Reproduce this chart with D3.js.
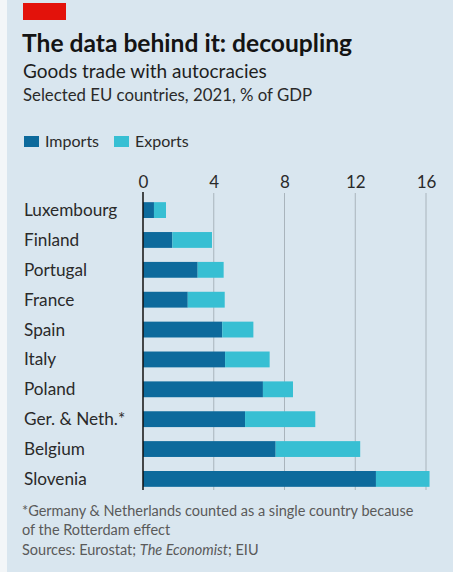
<!DOCTYPE html>
<html>
<head>
<meta charset="utf-8">
<script src="https://cdn.jsdelivr.net/npm/d3@7"></script>
<style>
  html, body { margin: 0; padding: 0; background: #f3f6f8; }
  svg { display: block; }
</style>
</head>
<body>
<svg id="chart" width="453" height="572"></svg>
<script>
// Goods trade with autocracies, selected EU countries, 2021, % of GDP
const countries = ["Luxembourg", "Finland", "Portugal", "France", "Spain", "Italy",
                   "Poland", "Ger. & Neth.*", "Belgium", "Slovenia"];
const imports = [0.62, 1.66, 3.09, 2.53, 4.48, 4.64, 6.78, 5.77, 7.50, 13.17];
const exports = [0.68, 2.24, 1.47, 2.09, 1.76, 2.52, 1.70, 3.97, 4.78, 3.03];
const xTicks = [0, 4, 8, 12, 16];
const seriesNames = ["Imports", "Exports"];

const W = 453, H = 572;
const colors = { Imports: "#0d6a9c", Exports: "#37bfd3" };
const bg = "#d9e6ef";
const font = "Lato, 'Open Sans', sans-serif";

const svg = d3.select("#chart");

// panel background with a pale strip on the left edge
svg.append("rect").attr("x", 7).attr("y", 0).attr("width", W - 7).attr("height", H).attr("fill", bg);

// red tag
svg.append("rect").attr("x", 23).attr("y", 3).attr("width", 43).attr("height", 17).attr("fill", "#e3120b");

// headings
svg.append("text").attr("x", 22).attr("y", 52)
  .attr("font-family", font).attr("font-weight", 700).attr("font-size", 24.6)
  .attr("fill", "#141414").text("The data behind it: decoupling");
svg.append("text").attr("x", 23).attr("y", 78)
  .attr("font-family", font).attr("font-size", 19)
  .attr("fill", "#1e1e1e").text("Goods trade with autocracies");
svg.append("text").attr("x", 23).attr("y", 101)
  .attr("font-family", font).attr("font-size", 16.8)
  .attr("fill", "#2a2a2a").text("Selected EU countries, 2021, % of GDP");

// legend
const legend = svg.append("g").attr("transform", "translate(24,136)");
const legX = [0, 90];
seriesNames.forEach((name, i) => {
  const g = legend.append("g").attr("transform", `translate(${legX[i]},0)`);
  g.append("rect").attr("width", 15).attr("height", 11).attr("fill", colors[name]);
  g.append("text").attr("x", 21).attr("y", 10.5)
    .attr("font-family", font).attr("font-size", 16).attr("fill", "#2a2a2a").text(name);
});

// scales
const x = d3.scaleLinear().domain([0, 16]).range([143, 426]);
const y = d3.scaleBand().domain(countries).range([195, 494]).paddingInner(0.47).paddingOuter(0.24);

// gridlines
svg.append("g").selectAll("line").data(xTicks.filter(d => d !== 0)).join("line")
  .attr("x1", d => x(d)).attr("x2", d => x(d))
  .attr("y1", 193).attr("y2", 490)
  .attr("stroke", "#a9b4bc").attr("stroke-width", 1);

// tick labels via d3 axis
const axis = d3.axisTop(x).tickValues(xTicks).tickSize(0).tickPadding(0).tickFormat(d3.format("d"));
const axG = svg.append("g").attr("transform", "translate(0,188)").call(axis);
axG.select(".domain").remove();
axG.selectAll("text").attr("font-family", font).attr("font-size", 17).attr("fill", "#2a2a2a");

// stacked bars
const rows = countries.map((c, i) => ({ country: c, Imports: imports[i], Exports: exports[i] }));
const stack = d3.stack().keys(seriesNames)(rows);
svg.append("g").selectAll("g").data(stack).join("g")
  .attr("fill", s => colors[s.key])
  .selectAll("rect").data(s => s).join("rect")
  .attr("x", d => x(d[0]))
  .attr("width", d => x(d[1]) - x(d[0]))
  .attr("y", d => y(d.data.country))
  .attr("height", y.bandwidth());

// zero line
svg.append("line").attr("x1", x(0)).attr("x2", x(0)).attr("y1", 192).attr("y2", 490)
  .attr("stroke", "#111").attr("stroke-width", 1.5);

// country labels
svg.append("g").selectAll("text").data(countries).join("text")
  .attr("x", 24).attr("y", d => y(d) + y.bandwidth() / 2)
  .attr("dy", "0.35em")
  .attr("font-family", font).attr("font-size", 17.2).attr("fill", "#2a2a2a")
  .text(d => d);

// notes
const notes = svg.append("g").attr("font-family", font).attr("font-size", 14.5).attr("fill", "#5a5a5a");
notes.append("text").attr("x", 22).attr("y", 516).text("*Germany & Netherlands counted as a single country because");
notes.append("text").attr("x", 22).attr("y", 535).text("of the Rotterdam effect");
const src = notes.append("text").attr("x", 22).attr("y", 555);
src.append("tspan").text("Sources: Eurostat; ");
src.append("tspan").attr("font-style", "italic").text("The Economist");
src.append("tspan").text("; EIU");
</script>
</body>
</html>
